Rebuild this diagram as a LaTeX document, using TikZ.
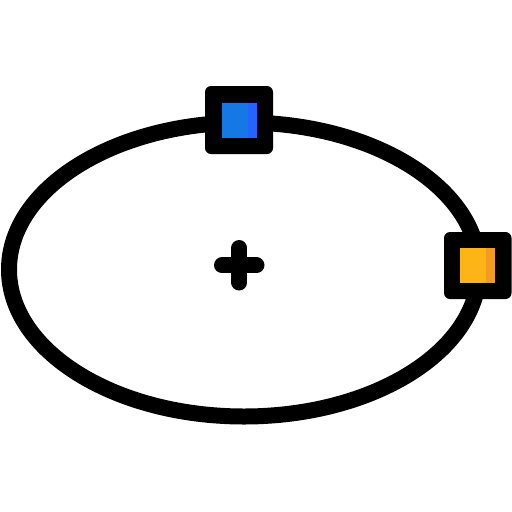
\documentclass[tikz,border=0pt]{standalone}
\definecolor{blueMain}{RGB}{21,120,228}
\definecolor{blueStripe}{RGB}{36,99,255}
\definecolor{orangeMain}{RGB}{253,181,21}
\definecolor{orangeStripe}{RGB}{244,154,31}
\tikzset{
  handle/.style={fill=black, rounded corners=6pt},
  outline/.style={draw=black, line width=16pt}
}
\begin{document}
\begin{tikzpicture}[x=1pt,y=-1pt]
\useasboundingbox (0,0) rectangle (512,512);
\fill[white] (0,0) rectangle (512,512);
% ellipse
\draw[outline] (244,269.5) ellipse [x radius=235, y radius=147];
% centre cross
\draw[black, line width=16pt, line cap=round] (222,265.3) -- (256.5,265.3);
\draw[black, line width=16pt, line cap=round] (239.3,248) -- (239.3,282.5);
% top handle
\path[handle] (205,86) rectangle (273,154);
\fill[blueMain] (222,103) rectangle (257,138);
\fill[blueStripe] (247.5,103) rectangle (257,138);
% right handle
\path[handle] (444,232) rectangle (511.5,299);
\fill[orangeMain] (460,248) rectangle (495,283);
\fill[orangeStripe] (486,248) rectangle (495,283);
\end{tikzpicture}
\end{document}
